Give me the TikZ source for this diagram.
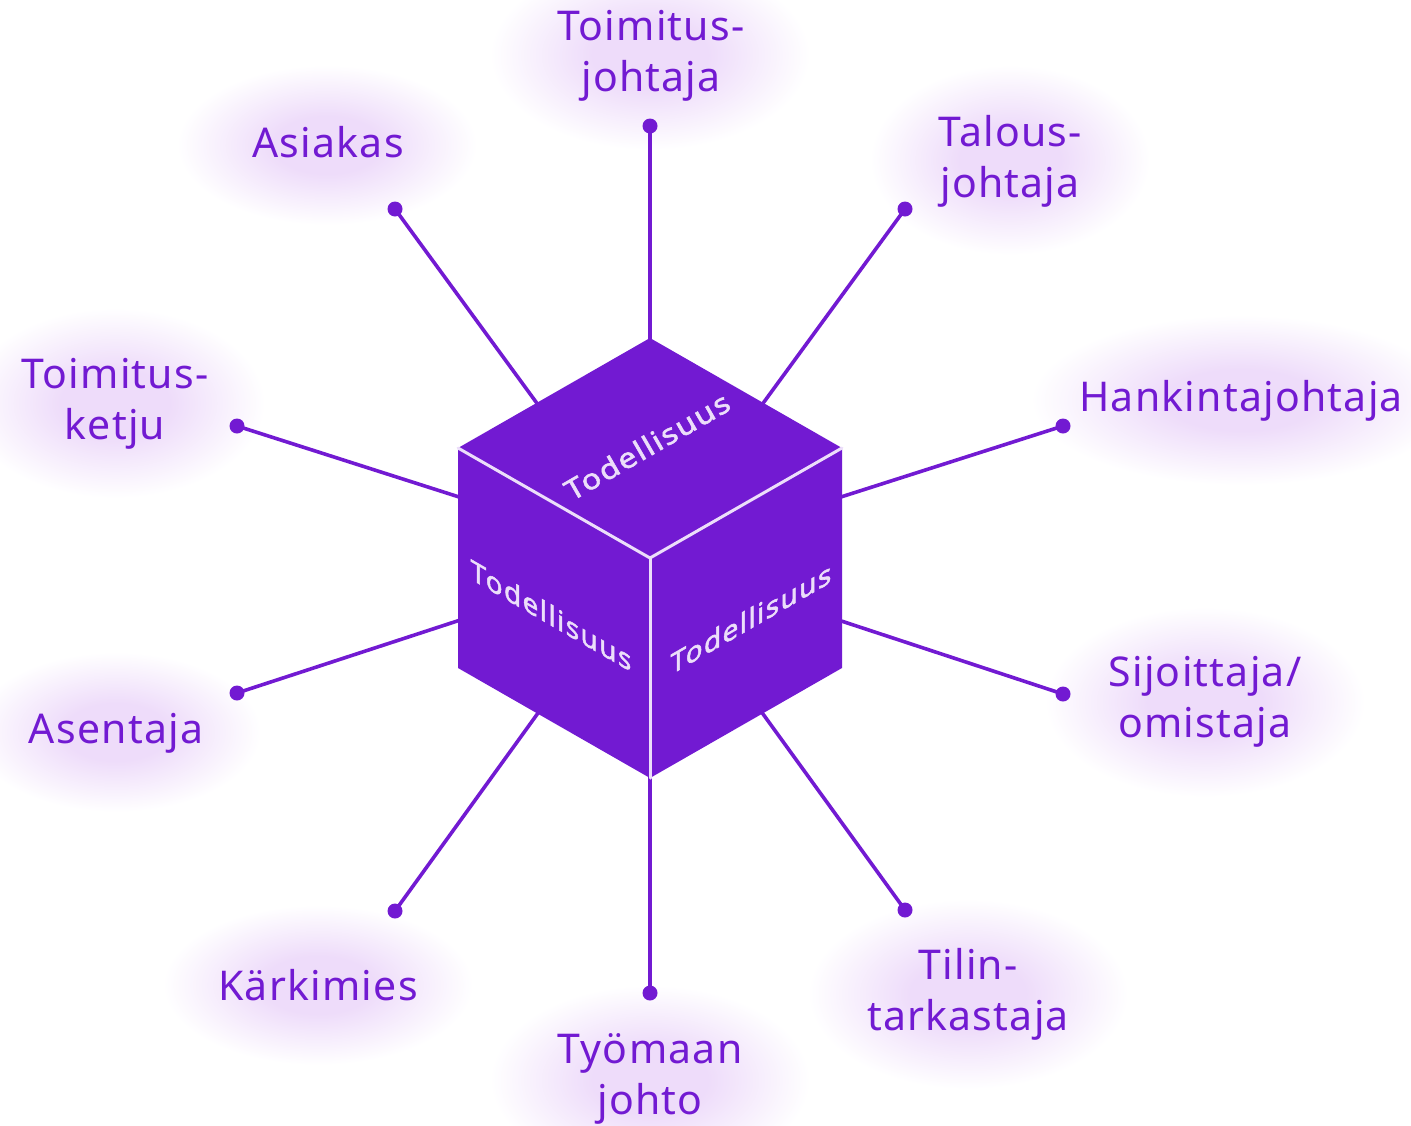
\documentclass[tikz,border=0pt]{standalone}
\usepackage{fontspec}
\setmainfont{Noto Sans}
\definecolor{vio}{RGB}{114,26,210}
\definecolor{edgec}{RGB}{236,222,250}
\definecolor{glowc}{RGB}{238,220,250}
\pgfdeclareradialshading{glowshade}{\pgfpoint{0bp}{0bp}}{color(0bp)=(glowc); color(9bp)=(glowc); color(25bp)=(white); color(50bp)=(white)}
\begin{document}
\begin{tikzpicture}[x=1pt,y=-1pt,
  lbl/.style={text=vio, font=\fontsize{41}{51}\selectfont\addfontfeature{LetterSpace=3}, align=center, inner sep=0pt},
  dotn/.style={circle, fill=vio, inner sep=0pt, minimum size=15pt},
  conn/.style={draw=vio, line width=3.6pt},
  face/.style={fill=vio},
  cubeedge/.style={draw=edgec, line width=3pt, line cap=round},
  ctext/.style={text=edgec, inner sep=0pt, font=\fontsize{28}{32}\selectfont\addfontfeature{FakeStretch=1.15,LetterSpace=6,FakeBold=2}},
  glow/.style={shading=glowshade}]
\useasboundingbox (0,0) rectangle (1411,1125);
% glows
\shade[glow] (650,55) ellipse [x radius=160pt, y radius=95pt];
\shade[glow] (327,145) ellipse [x radius=150pt, y radius=80pt];
\shade[glow] (1010,160) ellipse [x radius=140pt, y radius=95pt];
\shade[glow] (115,403) ellipse [x radius=150pt, y radius=95pt];
\shade[glow] (1241,400) ellipse [x radius=210pt, y radius=85pt];
\shade[glow] (116,732) ellipse [x radius=145pt, y radius=80pt];
\shade[glow] (1205,702) ellipse [x radius=160pt, y radius=95pt];
\shade[glow] (318,985) ellipse [x radius=155pt, y radius=80pt];
\shade[glow] (968,994) ellipse [x radius=160pt, y radius=95pt];
\shade[glow] (650,1080) ellipse [x radius=160pt, y radius=95pt];
% labels
\node[lbl] (l1) at (651,56) {Toimitus-\\johtaja};
\node[lbl] (l2) at (328,142) {Asiakas};
\node[lbl] (l3) at (1010,161) {Talous-\\johtaja};
\node[lbl] (l4) at (115,404) {Toimitus-\\ketju};
\node[lbl] (l5) at (1241,401) {Hankintajohtaja};
\node[lbl] (l6) at (116,733) {Asentaja};
\node[lbl] (l7) at (1205,702) {Sijoittaja/\\omistaja};
\node[lbl] (l8) at (318,985) {Kärkimies};
\node[lbl] (l9) at (968,994) {Tilin-\\tarkastaja};
\node[lbl] (l10) at (650,1079) {Työmaan\\johto};
% dots
\coordinate (c) at (650,558);
\node[dotn] (d1) at (650,126) {};
\node[dotn] (d2) at (395,209) {};
\node[dotn] (d3) at (905,209) {};
\node[dotn] (d4) at (237,426) {};
\node[dotn] (d5) at (1063,426) {};
\node[dotn] (d6) at (237,693) {};
\node[dotn] (d7) at (1063,694) {};
\node[dotn] (d8) at (395,911) {};
\node[dotn] (d9) at (905,910) {};
\node[dotn] (d10) at (650,993) {};
\foreach \i in {1,...,10} {\draw[conn] (d\i.center) -- (c);}
% cube
\coordinate (vt) at (650,338);
\coordinate (vl) at (458,448);
\coordinate (vr) at (842,448);
\coordinate (vbl) at (458,668);
\coordinate (vbr) at (842,668);
\coordinate (vb) at (650,778);
\fill[face] (vt) -- (vr) -- (vbr) -- (vb) -- (vbl) -- (vl) -- cycle;
\draw[cubeedge] (vl) -- (c) -- (vr);
\draw[cubeedge] (c) -- (vb);
\node[ctext, rotate=30] (ttop) at (647,446) {Todellisuus};
\node[ctext, cm={0.866,-0.5,0,1,(0,0)}] (tleft) at (551,615) {Todellisuus};
\node[ctext, cm={0.866,0.5,0,1,(0,0)}] (tright) at (751,618) {Todellisuus};
\end{tikzpicture}
\end{document}
